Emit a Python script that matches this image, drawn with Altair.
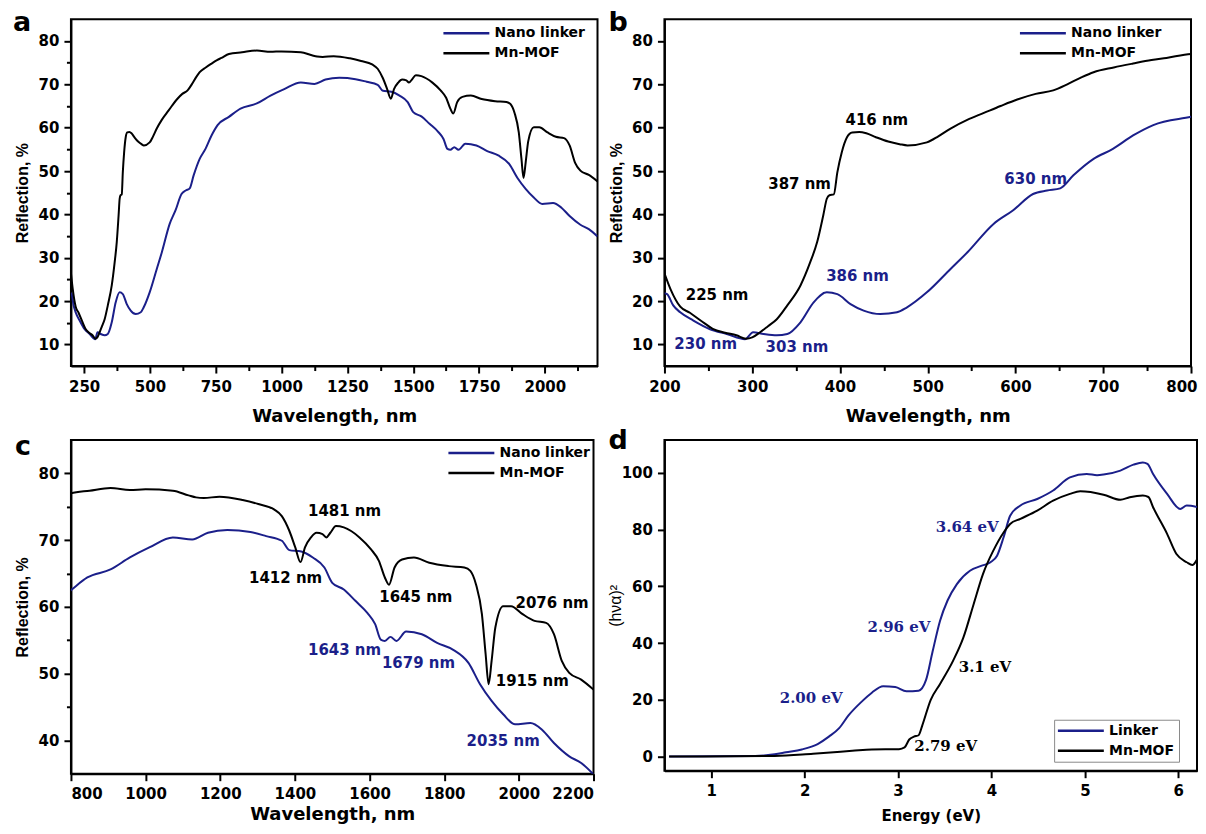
import altair as alt
import pandas as pd

BLUE = "#1b1f8a"
SANS = "DejaVu Sans"
ARIAL = "Liberation Sans"
SERIF = "DejaVu Serif"

# ---------------- Reflection spectra (panels a, b, c) ----------------
mof_wl = [200, 207, 218, 229, 242, 255, 269, 282, 293, 300,
          309, 318, 328, 340, 355, 366, 374, 381, 385, 388,
          393, 397, 402, 408, 414, 422, 430, 441, 455, 468,
          477, 499, 512, 526, 545, 564, 583, 602, 623, 643,
          659, 675, 689, 712, 734, 755, 772, 800, 850, 906,
          958, 1000, 1073, 1115, 1135, 1156, 1198, 1260, 1302, 1344,
          1365, 1385, 1401, 1415, 1427, 1443, 1458, 1474, 1484, 1495,
          1510, 1531, 1573, 1604, 1625, 1641, 1652, 1667, 1687, 1719,
          1760, 1812, 1854, 1870, 1885, 1901, 1911, 1919, 1927, 1937,
          1958, 1979, 2010, 2042, 2073, 2094, 2115, 2135, 2167, 2200]
mof_r = [26.4, 22.7, 18.7, 17.3, 15.4, 13.6, 12.7, 12.1, 11.3, 11.6,
         12.8, 14.2, 15.8, 19.0, 23.6, 28.9, 33.6, 39.8, 43.6, 44.4,
         44.6, 49.7, 54.3, 57.8, 58.9, 59.0, 58.7, 57.8, 56.8, 56.2,
         55.9, 56.6, 58.0, 59.8, 61.8, 63.4, 65.0, 66.5, 67.8, 68.6,
         70.0, 71.6, 72.8, 73.9, 74.8, 75.6, 76.1, 77.0, 77.4, 77.8,
         77.5, 77.6, 77.4, 76.7, 76.4, 76.3, 76.5, 76.0, 75.4, 74.6,
         73.6, 71.4, 68.9, 66.7, 68.9, 70.4, 71.1, 70.9, 70.4, 71.1,
         72.1, 71.9, 70.4, 68.6, 66.9, 64.4, 63.3, 65.9, 67.1, 67.4,
         66.6, 66.1, 65.9, 65.4, 63.4, 58.9, 52.9, 48.4, 51.9, 56.9,
         60.1, 60.1, 58.9, 57.9, 57.6, 55.9, 51.9, 50.1, 49.1, 47.6]

lnk_wl = [200, 203, 210, 218, 233, 252, 271, 292, 301, 313,
          328, 340, 355, 370, 385, 397, 412, 427, 446, 465,
          476, 499, 526, 545, 575, 597, 620, 636, 651, 666,
          689, 711, 734, 757, 800, 844, 906, 958, 1010, 1073,
          1125, 1167, 1219, 1281, 1323, 1365, 1385, 1417, 1448, 1479,
          1500, 1531, 1562, 1594, 1615, 1630, 1641, 1656, 1672, 1698,
          1740, 1781, 1823, 1865, 1896, 1927, 1958, 1990, 2031, 2062,
          2094, 2135, 2167, 2200]
lnk_r = [21.8, 21.6, 19.0, 17.4, 15.5, 13.5, 12.4, 11.2, 12.8, 12.4,
         12.1, 12.4, 15.1, 19.7, 22.0, 21.6, 19.3, 17.8, 17.0, 17.4,
         18.5, 22.0, 27.4, 31.2, 37.8, 40.9, 44.7, 45.5, 46.0, 49.0,
         52.8, 55.1, 58.2, 60.6, 62.5, 64.4, 65.6, 67.4, 68.9, 70.4,
         70.1, 71.1, 71.5, 71.2, 70.6, 69.9, 68.5, 68.3, 67.4, 65.9,
         63.6, 62.6, 60.9, 59.1, 57.4, 55.1, 54.9, 55.5, 54.9, 56.3,
         55.9, 54.6, 53.6, 51.6, 48.4, 45.9, 43.9, 42.4, 42.6, 41.6,
         39.6, 37.6, 36.6, 34.9]

refl_names = ["Nano linker", "Mn-MOF"]

# annotations (panel b)
b_ann_text = ["225 nm", "387 nm", "416 nm", "230 nm", "303 nm", "386 nm", "630 nm"]
b_ann_x = [260, 354, 442, 247, 351, 420, 623]
b_ann_y = [21.3, 47.0, 61.7, 10.2, 9.4, 25.7, 48.2]
b_ann_blue = [False, False, False, True, True, True, True]

# annotations (panel c)
c_ann_text = ["1481 nm", "1412 nm", "1645 nm", "2076 nm", "1915 nm", "1643 nm", "1679 nm", "2035 nm"]
c_ann_x = [1533, 1375, 1724, 2089, 2036, 1533, 1731, 1958]
c_ann_y = [74.4, 64.3, 61.5, 60.6, 48.9, 53.6, 51.6, 39.9]
c_ann_blue = [False, False, False, False, False, True, True, True]

# ---------------- Tauc plot (panel d) ----------------
d_lnk_e = [0.55, 1.47, 1.68, 1.80, 1.97, 2.14, 2.26, 2.37, 2.47, 2.60,
           2.72, 2.84, 2.97, 3.09, 3.22, 3.30, 3.37, 3.45, 3.53, 3.63,
           3.77, 3.89, 3.99, 4.06, 4.13, 4.20, 4.31, 4.49, 4.66, 4.84,
           5.02, 5.13, 5.20, 5.38, 5.52, 5.62, 5.67, 5.73, 5.88, 6.02,
           6.09, 6.20]
d_lnk_v = [0, 0.2, 0.8, 1.5, 2.5, 4.4, 7.0, 10.0, 14.5, 19.0,
           22.5, 24.8, 24.5, 23.0, 23.2, 27.0, 37.0, 47.9, 55.0, 60.8,
           65.5, 67.2, 68.5, 70.8, 77.3, 84.9, 88.5, 90.8, 93.8, 98.4,
           99.6, 99.2, 99.4, 100.8, 102.9, 103.7, 103.2, 99.6, 92.6, 87.3,
           88.5, 88.0]
d_mof_e = [0.55, 1.68, 2.09, 2.51, 2.72, 3.01, 3.07, 3.12, 3.17, 3.22,
           3.26, 3.35, 3.45, 3.59, 3.70, 3.81, 3.91, 4.02, 4.13, 4.20,
           4.31, 4.49, 4.66, 4.84, 4.95, 5.20, 5.38, 5.48, 5.62, 5.68,
           5.73, 5.88, 5.98, 6.09, 6.15, 6.20]
d_mof_v = [0, 0.2, 1.0, 2.0, 2.5, 2.6, 3.2, 6.0, 7.0, 7.5,
           11.0, 20.0, 25.6, 33.8, 42.0, 53.8, 64.4, 72.6, 79.0, 82.0,
           83.8, 86.7, 90.2, 92.6, 93.5, 92.3, 90.5, 91.4, 92.0, 91.5,
           87.9, 78.5, 71.4, 68.5, 67.5, 69.5]
band_names = ["Linker", "Mn-MOF"]

d_ann_text = ["3.64 eV", "2.96 eV", "2.00 eV", "3.1 eV", "2.79 eV"]
d_ann_x = [3.74, 3.01, 2.07, 3.93, 3.51]
d_ann_y = [81.0, 45.5, 20.8, 31.6, 3.7]
d_ann_blue = [True, True, True, False, False]

panel_letters = ["a", "b", "c", "d"]

# ---------------- tables ----------------
refl = pd.concat([
    pd.DataFrame({"wl": lnk_wl, "r": lnk_r, "series": refl_names[0]}),
    pd.DataFrame({"wl": mof_wl, "r": mof_r, "series": refl_names[1]}),
], ignore_index=True)

band = pd.concat([
    pd.DataFrame({"e": d_lnk_e, "v": d_lnk_v, "series": band_names[0]}),
    pd.DataFrame({"e": d_mof_e, "v": d_mof_v, "series": band_names[1]}),
], ignore_index=True)


def rng(a, b, s):
    out = []
    v = a
    while v <= b + 1e-9:
        out.append(round(v, 4))
        v += s
    return out


def legend(lx, ly, boxed=False):
    kw = dict(title=None, orient="none", legendX=lx, legendY=ly,
              symbolType="M-7,0H1", symbolSize=132, symbolStrokeWidth=2.5,
              symbolOffset=33, labelOffset=4,
              labelFont=SANS, labelFontSize=14, labelFontWeight="bold",
              labelColor="black", rowPadding=6, padding=0)
    if boxed:
        kw.update(strokeColor="#8a8a8a", padding=4, fillColor="white")
    return alt.Legend(**kw)


def xaxis(values, test, title, title_y, size=18, last=None):
    kw = dict(values=values, format="d", title=title,
              labelExpr=f"({test}) ? datum.label : ''", labelOverlap=False,
              tickSize={"condition": {"test": test, "value": 7}, "value": 4.5},
              labelPadding=6, titleY=title_y, titleFont=SANS,
              titleFontSize=size, titleFontWeight="bold", grid=False)
    if last is not None:
        kw["labelAlign"] = {"condition": {"test": f"datum.value === {last}", "value": "right"},
                            "value": "center"}
        kw["labelOffset"] = {"condition": {"test": f"datum.value === {last}", "value": 6},
                             "value": 0}
    return alt.Axis(**kw)


def yaxis(values, test, title, title_x, font=ARIAL, weight="bold", size=16):
    return alt.Axis(values=values, format="d", title=title,
                    labelExpr=f"({test}) ? datum.label : ''", labelOverlap=False,
                    tickSize={"condition": {"test": test, "value": 7}, "value": 4.5},
                    labelPadding=5, titleX=title_x, titleFont=font,
                    titleFontSize=size, titleFontWeight=weight, grid=False)


def letter(ch, lx, ly):
    return alt.Chart(pd.DataFrame({"t": [ch]})).mark_text(
        align="left", baseline="top", font=SANS, fontSize=27,
        fontWeight="bold", color="black").encode(
        text="t:N", x=alt.value(lx), y=alt.value(ly))


def annotations(texts, xs, ys, blues, xf, yf, font, size):
    df = pd.DataFrame({xf: xs, yf: ys, "t": texts, "blue": blues})
    layers = []
    for is_blue, col in [(True, BLUE), (False, "black")]:
        sub = df[df["blue"] == is_blue]
        layers.append(alt.Chart(sub).mark_text(
            font=font, fontSize=size, fontWeight="bold", color=col,
            align="center", baseline="middle").encode(
            x=f"{xf}:Q", y=f"{yf}:Q", text="t:N"))
    return layers


def refl_panel(xdom, xvals, xtest, ydom, yvals, w, h, ch, lpos, legpos,
               ann=None, title_y=42, last=None):
    line = alt.Chart(refl).mark_line(clip=True, strokeWidth=2, interpolate="monotone").encode(
        x=alt.X("wl:Q", scale=alt.Scale(domain=xdom, nice=False, zero=False),
                axis=xaxis(xvals, xtest, "Wavelength, nm", title_y, last=last)),
        y=alt.Y("r:Q", scale=alt.Scale(domain=ydom, nice=False, zero=False),
                axis=yaxis(yvals, "datum.value % 10 === 0", "Reflection, %", -40)),
        color=alt.Color("series:N", scale=alt.Scale(domain=refl_names, range=[BLUE, "black"]),
                        legend=legend(*legpos)),
        detail="series:N",
    )
    layers = [line]
    if ann is not None:
        layers += annotations(*ann, "wl", "r", SANS, 15)
    layers.append(letter(ch, *lpos))
    return alt.layer(*layers).properties(width=w, height=h)


pa = refl_panel([200, 2200], rng(250, 2125, 125), "datum.value % 250 === 0",
                [5, 85], rng(10, 80, 5), 527, 347, "a", (-58, -9), (373, 7))
pb = refl_panel([200, 800], rng(200, 800, 50), "datum.value % 100 === 0",
                [5, 85], rng(10, 80, 5), 527, 347, "b", (-56, -9), (356, 7),
                ann=(b_ann_text, b_ann_x, b_ann_y, b_ann_blue), last=800)
pc = refl_panel([800, 2200], rng(800, 2200, 100), "datum.value % 200 === 0",
                [35, 85], rng(40, 80, 5), 523, 334, "c", (-56, -6), (378, 6),
                ann=(c_ann_text, c_ann_x, c_ann_y, c_ann_blue), title_y=32)

d_line = alt.Chart(band).mark_line(clip=True, strokeWidth=2, interpolate="monotone").encode(
    x=alt.X("e:Q", scale=alt.Scale(domain=[0.5, 6.2], nice=False, zero=False),
            axis=xaxis(rng(1, 6, 0.5), "datum.value % 1 === 0", "Energy (eV)", 38, size=15)),
    y=alt.Y("v:Q", scale=alt.Scale(domain=[-5, 111.6], nice=False, zero=False),
            axis=yaxis(rng(0, 110, 10), "datum.value % 20 === 0", "(hνα)²", -41,
                       font=ARIAL, weight="normal", size=16)),
    color=alt.Color("series:N", scale=alt.Scale(domain=band_names, range=[BLUE, "black"]),
                    legend=legend(390, 280, boxed=True)),
    detail="series:N",
)
pd_layers = [d_line] + annotations(d_ann_text, d_ann_x, d_ann_y, d_ann_blue, "e", "v", SERIF, 15)
pd_layers.append(letter("d", -56, -12))
pdd = alt.layer(*pd_layers).properties(width=533, height=331)

chart = alt.concat(pa, pb, pc, pdd, columns=2, bounds="flush",
                   spacing={"row": 74, "column": 67}).resolve_scale(
    x="independent", y="independent", color="independent").resolve_legend(color="independent")

chart = chart.properties(
    padding={"left": 4, "top": 0, "right": 0, "bottom": 0},
    background="white",
).configure_view(
    stroke="black", strokeWidth=2
).configure_axis(
    domainColor="black", domainWidth=2, tickColor="black", tickWidth=2,
    labelColor="black", titleColor="black", labelFont=SANS, labelFontSize=15,
    labelFontWeight="bold", grid=False
)

chart.save("out.html", embed_options={"renderer": "svg", "actions": False})
